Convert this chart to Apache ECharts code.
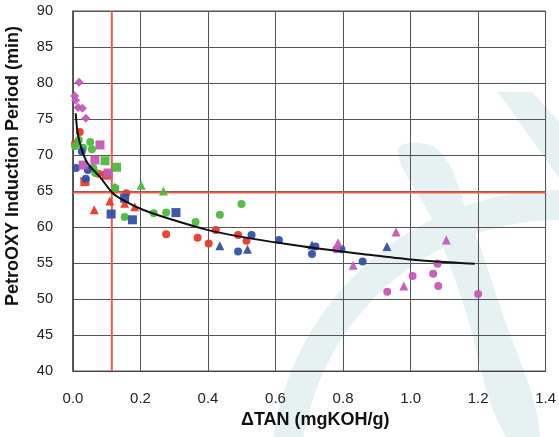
<!DOCTYPE html>
<html><head><meta charset="utf-8">
<script src="https://cdn.jsdelivr.net/npm/echarts@6/dist/echarts.min.js"></script>
<style>html,body{margin:0;padding:0;background:#fff}#c{width:559px;height:437px}</style>
</head><body><div id="c"></div>
<script>
// x ticks / y ticks
const xTicks = [0.0, 0.2, 0.4, 0.6, 0.8, 1.0, 1.2, 1.4];
const yTicks = [40, 45, 50, 55, 60, 65, 70, 75, 80, 85, 90];

const redCircles = [[0.02,73.2],[0.006,71.6],[0.075,67.4],[0.158,64.7],[0.276,59.0],[0.369,58.5],[0.402,57.7],[0.423,59.6],[0.489,58.9],[0.514,58.1]];
const redSquares = [[0.035,66.3],[0.099,67.2]];
const redTriangles = [[0.063,62.4],[0.109,63.6],[0.153,63.3],[0.183,62.8]];

const greenCircles = [[0.017,72.1],[0.006,71.2],[0.051,71.8],[0.056,70.8],[0.03,71.0],[0.06,68.2],[0.066,67.5],[0.125,65.4],[0.153,61.4],[0.239,61.9],[0.276,62.0],[0.363,60.7],[0.435,61.7],[0.499,63.2]];
const greenSquares = [[0.095,69.2],[0.129,68.3]];
const greenTriangles = [[0.124,65.6],[0.202,65.8],[0.268,65.0]];

const blueCircles = [[0.009,68.2],[0.044,67.9],[0.038,66.7],[0.026,70.5],[0.489,56.6],[0.529,58.9],[0.61,58.2],[0.718,57.3],[0.708,56.25],[0.795,56.9],[0.858,55.2]];
const blueSquares = [[0.113,61.8],[0.176,61.0],[0.153,64.0],[0.305,62.0]];
const blueTriangles = [[0.435,57.4],[0.517,56.9],[0.708,57.5],[0.93,57.3]];

const magentaDiamonds = [[0.018,80.1],[0.005,78.2],[0.008,77.6],[0.015,76.6],[0.028,76.5],[0.038,75.1]];
const magentaSquares = [[0.08,71.4],[0.065,69.3],[0.03,68.6],[0.104,67.5]];
const magentaTriangles = [[0.957,59.3],[1.106,58.2],[0.785,57.8],[0.83,54.7],[0.98,51.8]];
const magentaCircles = [[0.78,56.9],[1.08,54.9],[1.067,53.5],[1.006,53.2],[1.082,51.8],[0.931,51.0],[1.2,50.7]];

const fitCurve = [[0.008,75.8],[0.016,72.5],[0.04,69.1],[0.079,67.0],[0.118,64.7],[0.158,63.5],[0.207,62.4],[0.295,61.0],[0.398,59.6],[0.491,58.7],[0.609,57.8],[0.726,57.0],[0.85,56.3],[1.0,55.5],[1.19,54.9]];

const limitX = 0.115;
const limitY = 64.8;

const RED = '#ea3a2a', GREEN = '#4dba3e', BLUE = '#3450a8', MAG = '#c45ab8';
const WM = '#e6f2f2';
const FONT = '"Liberation Sans", Arial, Helvetica, sans-serif';

function sc(name, data, color, symbol, size) {
  return { name, type: 'scatter', data, symbol, symbolSize: size, itemStyle: { color, opacity: 0.95 }, z: 3 };
}

const chart = echarts.init(document.getElementById('c'));
chart.setOption({
  animation: false,
  backgroundColor: '#fff',
  graphic: [
    { type: 'sector', z: -10, silent: true,
      shape: { cx: 560, cy: 480, r: 290, r0: 260, startAngle: Math.PI, endAngle: 1.5 * Math.PI },
      style: { fill: WM } },
    { type: 'polygon', z: -10, silent: true, shape: { smooth: 0.4,
      points: [[398,150],[438,150],[470,220],[498,300],[540,437],[506,437],[462,300],[432,220]] },
      style: { fill: WM } },
    { type: 'polygon', z: -10, silent: true,
      shape: { points: [[498,92],[532,92],[559,122],[559,178]] },
      style: { fill: WM } },
    { type: 'text', z: 10, left: 4, top: 26, rotation: Math.PI / 2,
      style: { text: 'PetroOXY Induction Period (min)', font: 'bold 18px ' + FONT, fill: '#111' } }
  ],
  grid: { left: 73, right: 11, top: 11, bottom: 66, show: true, borderColor: '#555', borderWidth: 1, backgroundColor: 'transparent' },
  xAxis: {
    type: 'value', min: xTicks[0], max: xTicks[xTicks.length - 1], interval: 0.2,
    name: 'ΔTAN (mgKOH/g)', nameLocation: 'middle', nameGap: 33,
    nameTextStyle: { fontFamily: FONT, fontWeight: 'bold', fontSize: 18, color: '#111', padding: [0, 0, 0, 12] },
    axisLine: { show: true, lineStyle: { color: '#444', width: 1 } },
    axisTick: { show: false },
    axisLabel: { margin: 20, fontFamily: FONT, fontSize: 15, color: '#222', formatter: v => v.toFixed(1) },
    splitLine: { show: true, lineStyle: { color: '#555', width: 1 } }
  },
  yAxis: {
    type: 'value', min: yTicks[0], max: yTicks[yTicks.length - 1], interval: 5,
    axisLine: { show: true, lineStyle: { color: '#444', width: 1.5 } },
    axisTick: { show: false },
    axisLabel: { margin: 20, fontFamily: FONT, fontSize: 14.5, color: '#222' },
    splitLine: { show: true, lineStyle: { color: '#555', width: 1 } }
  },
  series: [
    { type: 'line', data: [[limitX, yTicks[0]], [limitX, yTicks[yTicks.length - 1]]], symbol: 'none', lineStyle: { color: '#f05a4a', width: 2 }, z: 2 },
    { type: 'line', data: [[xTicks[0], limitY], [xTicks[xTicks.length - 1], limitY]], symbol: 'none', lineStyle: { color: '#f05a4a', width: 2 }, z: 2 },
    sc('rc', redCircles, RED, 'circle', 8),
    sc('rs', redSquares, RED, 'rect', 9),
    sc('rt', redTriangles, RED, 'triangle', 9),
    sc('gc', greenCircles, GREEN, 'circle', 8),
    sc('gs', greenSquares, GREEN, 'rect', 9),
    sc('gt', greenTriangles, GREEN, 'triangle', 9),
    sc('bc', blueCircles, BLUE, 'circle', 8),
    sc('bs', blueSquares, BLUE, 'rect', 9),
    sc('bt', blueTriangles, BLUE, 'triangle', 9),
    sc('md', magentaDiamonds, MAG, 'diamond', 9),
    sc('ms', magentaSquares, MAG, 'rect', 9),
    sc('mt', magentaTriangles, MAG, 'triangle', 9),
    sc('mc', magentaCircles, MAG, 'circle', 8),
    { type: 'line', data: fitCurve, symbol: 'none', smooth: 0.3, lineStyle: { color: '#111', width: 2 }, z: 4 }
  ]
});
</script></body></html>
